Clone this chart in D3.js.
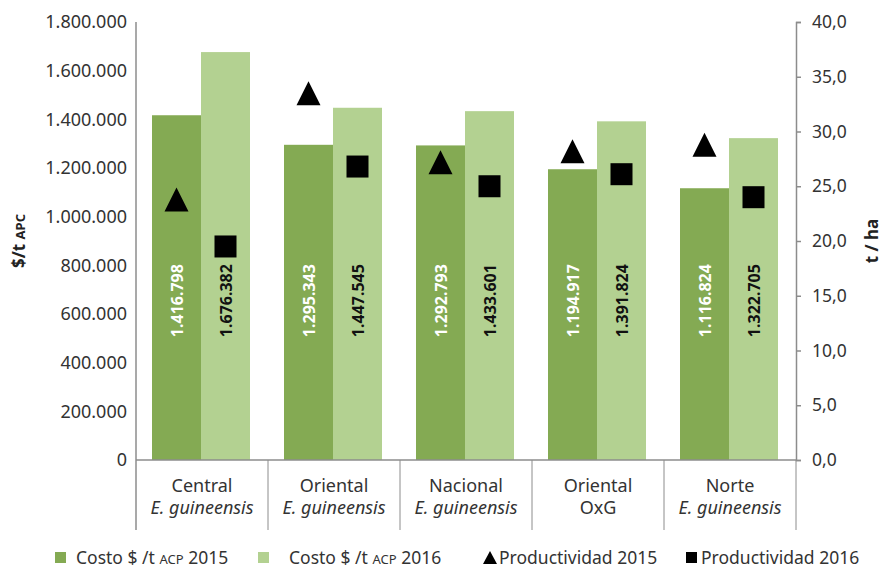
<!DOCTYPE html>
<html>
<head>
<meta charset="utf-8">
<script src="https://cdn.jsdelivr.net/npm/d3@7"></script>
<style>
  body { margin: 0; background: #fff; }
  svg text { font-family: "Noto Sans", "Open Sans", sans-serif; fill: #222; }
</style>
</head>
<body>
<div id="chart"></div>
<script>
var regions = ["Central", "Oriental", "Nacional", "Oriental", "Norte"];
var varieties = ["E. guineensis", "E. guineensis", "E. guineensis", "OxG", "E. guineensis"];
var cost2015 = [1416798, 1295343, 1292793, 1194917, 1116824];
var cost2016 = [1676382, 1447545, 1433601, 1391824, 1322705];
var prod2015 = [23.8, 33.5, 27.2, 28.2, 28.8];
var prod2016 = [19.5, 26.8, 25.0, 26.1, 24.0];
var costTicks = [0, 200000, 400000, 600000, 800000, 1000000, 1200000, 1400000, 1600000, 1800000];
var prodTicks = [0, 5, 10, 15, 20, 25, 30, 35, 40];

var W = 882, H = 568;
var margin = {top: 22, right: 86, bottom: 108, left: 136};
var width = W - margin.left - margin.right;
var height = H - margin.top - margin.bottom;

var locale = d3.formatLocale({decimal: ",", thousands: ".", grouping: [3], currency: ["$", ""]});
var fmtCost = locale.format(",d");
var fmtProd = locale.format(".1f");

var svg = d3.select("#chart").append("svg")
    .attr("width", W).attr("height", H);
var g = svg.append("g")
    .attr("transform", "translate(" + margin.left + "," + margin.top + ")");

var idx = d3.range(regions.length);
var x = d3.scaleBand().domain(idx).range([0, width]).paddingInner(0).paddingOuter(0);
var xs = d3.scaleBand().domain(["a", "b"]).range([16, x.bandwidth() - 18]);
var yL = d3.scaleLinear().domain([0, 1800000]).range([height, 0]);
var yR = d3.scaleLinear().domain([0, 40]).range([height, 0]);

var dark = "#84aa53", light = "#b3d191", axisCol = "#8c8c8c";
var fs = "18px";

// bars
var grp = g.selectAll(".grp").data(idx).enter().append("g")
    .attr("transform", d => "translate(" + x(d) + ",0)");
grp.append("rect")
    .attr("x", xs("a")).attr("width", xs.bandwidth())
    .attr("y", d => yL(cost2015[d])).attr("height", d => height - yL(cost2015[d]))
    .attr("fill", dark);
grp.append("rect")
    .attr("x", xs("b")).attr("width", xs.bandwidth())
    .attr("y", d => yL(cost2016[d])).attr("height", d => height - yL(cost2016[d]))
    .attr("fill", light);

// value labels
var labelY = yL(655000);
grp.append("text")
    .attr("transform", d => "translate(" + (xs("a") + xs.bandwidth() / 2 + 6) + "," + labelY + ") rotate(-90)")
    .attr("text-anchor", "middle")
    .style("font-weight", "bold").style("font-size", "16px").style("fill", "#fff")
    .text(d => fmtCost(cost2015[d]));
grp.append("text")
    .attr("transform", d => "translate(" + (xs("b") + xs.bandwidth() / 2 + 6) + "," + labelY + ") rotate(-90)")
    .attr("text-anchor", "middle")
    .style("font-weight", "bold").style("font-size", "16px").style("fill", "#111")
    .text(d => fmtCost(cost2016[d]));

// markers
var tri = 24, sq = 22;
grp.append("path")
    .attr("d", d => {
      var cx = xs("a") + xs.bandwidth() / 2, cy = yR(prod2015[d]);
      return "M" + cx + "," + (cy - tri / 2) + "L" + (cx + tri / 2) + "," + (cy + tri / 2) +
             "L" + (cx - tri / 2) + "," + (cy + tri / 2) + "Z";
    })
    .attr("fill", "#000");
grp.append("rect")
    .attr("x", xs("b") + xs.bandwidth() / 2 - sq / 2)
    .attr("y", d => yR(prod2016[d]) - sq / 2)
    .attr("width", sq).attr("height", sq)
    .attr("fill", "#000");

// left axis
var axL = g.append("g").call(d3.axisLeft(yL).tickValues(costTicks).tickFormat(fmtCost).tickSize(0).tickPadding(9));
axL.select(".domain").remove();
axL.selectAll("text").style("font-size", fs).style("fill", "#333").style("font-family", "\"Noto Sans\", sans-serif");
g.append("line").attr("x1", 0).attr("x2", 0).attr("y1", 0).attr("y2", height + 70)
    .attr("stroke", axisCol).attr("stroke-width", 1.5);

// right axis
var axR = g.append("g").attr("transform", "translate(" + width + ",0)")
    .call(d3.axisRight(yR).tickValues(prodTicks).tickFormat(fmtProd).tickSize(5).tickPadding(11));
axR.select(".domain").attr("stroke", axisCol).attr("stroke-width", 1.5);
axR.selectAll(".tick line").attr("stroke", axisCol).attr("stroke-width", 1.5);
axR.selectAll("text").style("font-size", "17.5px").style("fill", "#333").style("font-family", "\"Noto Sans\", sans-serif");

// category axis
g.append("line").attr("x1", 0).attr("x2", width).attr("y1", height).attr("y2", height)
    .attr("stroke", axisCol).attr("stroke-width", 1.5);
g.selectAll(".div").data(idx.slice(1).concat([regions.length])).enter().append("line")
    .attr("x1", d => d * x.step()).attr("x2", d => d * x.step())
    .attr("y1", height).attr("y2", height + 70)
    .attr("stroke", axisCol).attr("stroke-width", 1);
var cat = g.selectAll(".cat").data(idx).enter().append("text")
    .attr("x", d => x(d) + x.bandwidth() / 2)
    .attr("y", height + 32)
    .attr("text-anchor", "middle").style("font-size", fs).style("fill", "#333");
cat.append("tspan").text(d => regions[d]);
cat.append("tspan").attr("x", d => x(d) + x.bandwidth() / 2).attr("dy", 22)
    .style("font-style", d => varieties[d] === "OxG" ? "normal" : "italic")
    .text(d => varieties[d]);

// axis titles
var tL = svg.append("text")
    .attr("transform", "translate(25," + (margin.top + height / 2) + ") rotate(-90)")
    .attr("text-anchor", "middle").style("font-weight", "bold").style("font-size", "17px");
tL.append("tspan").text("$/t ");
tL.append("tspan").style("font-size", "13px").text("APC");
svg.append("text")
    .attr("transform", "translate(878," + (margin.top + height / 2) + ") rotate(-90)")
    .attr("text-anchor", "middle").style("font-weight", "bold").style("font-size", "17px")
    .text("t / ha");

// legend
var ly = 558, lfs = "17.5px";
var leg = svg.append("g");
leg.append("rect").attr("x", 55).attr("y", ly - 6).attr("width", 11).attr("height", 11).attr("fill", dark);
var l1 = leg.append("text").attr("x", 76).attr("y", ly + 6).style("font-size", lfs).style("fill", "#333");
l1.append("tspan").text("Costo $ /t ");
l1.append("tspan").style("font-size", "13px").text("ACP");
l1.append("tspan").text(" 2015");
leg.append("rect").attr("x", 258).attr("y", ly - 6).attr("width", 11).attr("height", 11).attr("fill", light);
var l2 = leg.append("text").attr("x", 289).attr("y", ly + 6).style("font-size", lfs).style("fill", "#333");
l2.append("tspan").text("Costo $ /t ");
l2.append("tspan").style("font-size", "13px").text("ACP");
l2.append("tspan").text(" 2016");
leg.append("path").attr("d", "M490," + (ly - 7) + "L497," + (ly + 6) + "L483," + (ly + 6) + "Z").attr("fill", "#000");
leg.append("text").attr("x", 499).attr("y", ly + 6).style("font-size", lfs).style("fill", "#333").text("Productividad 2015");
leg.append("rect").attr("x", 686).attr("y", ly - 6).attr("width", 11).attr("height", 11).attr("fill", "#000");
leg.append("text").attr("x", 701).attr("y", ly + 6).style("font-size", lfs).style("fill", "#333").text("Productividad 2016");
</script>
</body>
</html>
